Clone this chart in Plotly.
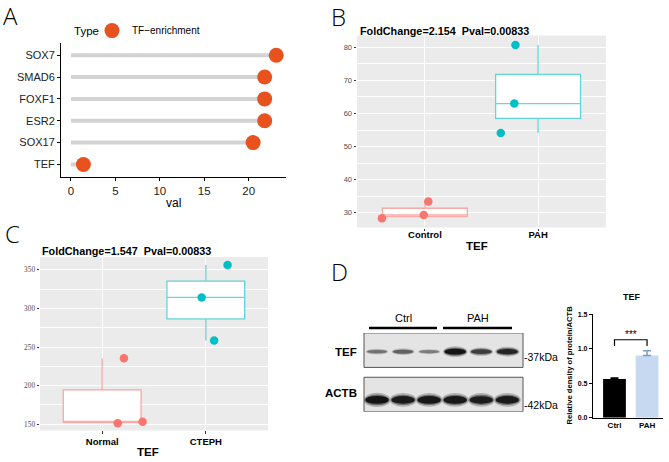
import plotly.graph_objects as go

W, H = 669, 462
def X(px): return px / W
def Y(py): return 1 - py / H

# ---------------- data ----------------
a_genes = ["SOX7", "SMAD6", "FOXF1", "ESR2", "SOX17", "TEF"]
a_vals = [23.1, 21.8, 21.8, 21.8, 20.5, 1.4]

b_groups = ["Control", "PAH"]
b_control = [28.3, 29.3, 33.4]
b_control_jitter = [-0.38, -0.01, 0.03]
b_pah = [54.1, 63.0, 80.7]
b_pah_jitter = [-0.33, -0.21, -0.20]
b_title = "FoldChange=2.154\u00a0 Pval=0.00833"

c_groups = ["Normal", "CTEPH"]
c_normal = [151.3, 153.4, 235.5]
c_normal_jitter = [0.15, 0.39, 0.21]
c_cteph = [258.5, 314.4, 356.4]
c_cteph_jitter = [0.08, -0.04, 0.21]
c_title = "FoldChange=1.547\u00a0 Pval=0.00833"

d_lanes = [1, 2, 3, 4, 5, 6]
d_tef_band = [0.55, 0.62, 0.5, 1.0, 0.8, 0.92]
d_actb_band = [1.0, 0.97, 0.98, 0.98, 0.96, 0.97]

d_groups = ["Ctrl", "PAH"]
d_means = [0.56, 0.90]
d_sem = [0.015, 0.07]
d_sig = "***"

SANS = "Liberation Sans, Arial, sans-serif"
SERIF = "Liberation Serif, Times New Roman, serif"
RED = "#F8766D"
TEAL = "#00BFC4"

fig = go.Figure()

# ---------------- Panel A ----------------
seg_x, seg_y = [], []
for g, v in zip(a_genes, a_vals):
    seg_x += [0, v, None]
    seg_y += [g, g, None]
fig.add_trace(go.Scatter(x=seg_x, y=seg_y, mode="lines",
                         line=dict(color="#D3D3D3", width=4),
                         showlegend=False, xaxis="x", yaxis="y", hoverinfo="skip"))
fig.add_trace(go.Scatter(x=a_vals, y=a_genes, mode="markers", name="TF\u2212enrichment",
                         marker=dict(color="#E8521E", size=15),
                         showlegend=True, xaxis="x", yaxis="y"))

# ---------------- Panels B and C (boxplots + jittered points) ----------------
def add_group(vals, jit, pos, col, lc, xa, ya):
    fig.add_trace(go.Box(y=vals, x0=pos, boxpoints=False, width=0.75, whiskerwidth=0,
                         quartilemethod="inclusive", fillcolor="white",
                         line=dict(color=lc, width=1.3), xaxis=xa, yaxis=ya, showlegend=False))
    fig.add_trace(go.Scatter(x=[pos + j for j in jit], y=vals, mode="markers",
                             marker=dict(color=col, size=8.5), xaxis=xa, yaxis=ya, showlegend=False))

add_group(b_control, b_control_jitter, 1, RED, "rgba(248,118,109,0.6)", "x2", "y2")
add_group(b_pah, b_pah_jitter, 2, TEAL, "rgba(0,191,196,0.6)", "x2", "y2")
add_group(c_normal, c_normal_jitter, 1, RED, "rgba(248,118,109,0.6)", "x3", "y3")
add_group(c_cteph, c_cteph_jitter, 2, TEAL, "rgba(0,191,196,0.6)", "x3", "y3")

# ---------------- Panel D bars ----------------
fig.add_trace(go.Bar(x=[d_groups[0]], y=[d_means[0]], width=0.7, marker=dict(color="black", line=dict(width=0)),
                     error_y=dict(type="data", array=[d_sem[0]], arrayminus=[0], symmetric=False,
                                  color="black", thickness=1.5, width=4),
                     xaxis="x5", yaxis="y5", showlegend=False))
fig.add_trace(go.Bar(x=[d_groups[1]], y=[d_means[1]], width=0.7, marker=dict(color="#C6D9F0", line=dict(width=0)),
                     error_y=dict(type="data", array=[d_sem[1]], arrayminus=[0], symmetric=False,
                                  color="#7E9CC6", thickness=1.5, width=4),
                     xaxis="x5", yaxis="y5", showlegend=False))
br_low = max(m + s for m, s in zip(d_means, d_sem)) + 0.07
br_high = br_low + 0.09
fig.add_trace(go.Scatter(x=[d_groups[0], d_groups[0], d_groups[1], d_groups[1]],
                         y=[br_low, br_high, br_high, br_low], mode="lines",
                         line=dict(color="black", width=1.2), xaxis="x5", yaxis="y5",
                         showlegend=False, hoverinfo="skip"))

shapes = []
annotations = []

# ---------------- Western blot (axis x4/y4) ----------------
for y0, y1 in [(0, 35), (45, 80)]:
    shapes.append(dict(type="rect", xref="x4 domain", yref="y4", x0=0, x1=1, y0=y0, y1=y1,
                       fillcolor="#E4E4E4", line=dict(color="#555555", width=1), layer="below"))

def band_shapes(lane, v, yc, hscale, wbase):
    out = []
    g = int(225 - 205 * v)
    for sw, sh, op in [(1.15, 1.8, 0.25), (1.05, 1.35, 0.45), (1.0, 1.0, 1.0)]:
        w = wbase * sw * (0.85 + 0.15 * v)
        h = hscale * v * sh
        col = "rgba(%d,%d,%d,%.2f)" % (g, g, g, op)
        out.append(dict(type="circle", xref="x4", yref="y4",
                        x0=lane - w / 2, x1=lane + w / 2, y0=yc - h / 2, y1=yc + h / 2,
                        fillcolor=col, line=dict(width=0), layer="above"))
    return out

for ln, v in zip(d_lanes, d_tef_band):
    shapes += band_shapes(ln, v, 19, 6.0, 0.82)
for ln, v in zip(d_lanes, d_actb_band):
    shapes += band_shapes(ln, v, 68, 8.0, 0.9)

fig.add_trace(go.Scatter(x=d_lanes, y=[None] * len(d_lanes), mode="markers",
                         xaxis="x4", yaxis="y4", showlegend=False, hoverinfo="skip"))

shapes.append(dict(type="line", xref="paper", yref="paper", x0=X(369), x1=X(437), y0=Y(329), y1=Y(329),
                   line=dict(color="black", width=2.5)))
shapes.append(dict(type="line", xref="paper", yref="paper", x0=X(443), x1=X(512), y0=Y(329), y1=Y(329),
                   line=dict(color="black", width=2.5)))

for ax in ["2", "3"]:
    shapes.append(dict(type="rect", xref="x%s domain" % ax, yref="y%s domain" % ax, x0=0, x1=1, y0=0, y1=1,
                       fillcolor="#EBEBEB", line=dict(width=0), layer="below"))

def ann(text, x, y, size, xanchor="center", yanchor="middle", bold=False, family=SANS, color="black",
        textangle=0, weight=None):
    annotations.append(dict(text=text, x=X(x), y=Y(y), xref="paper", yref="paper", showarrow=False,
                            xanchor=xanchor, yanchor=yanchor, textangle=textangle,
                            font=dict(size=size, family=family, color=color,
                                      weight=weight if weight else ("bold" if bold else "normal"))))

for L, x, y in [("A", 1, 12), ("B", 329, 13), ("C", 3, 233), ("D", 329, 272)]:
    ann(L, x, y, 24, xanchor="left", family="Open Sans, sans-serif", weight=300)

ann("Type", 72, 27, 11.5, xanchor="left")
ann("val", 173, 202, 12)
ann(b_title, 358, 27, 10.8, xanchor="left", bold=True)
ann("TEF", 477, 246, 11.5, bold=True)
ann(c_title, 40, 251, 10.8, xanchor="left", bold=True)
ann("TEF", 148, 455, 11.5, bold=True)

ann("Ctrl", 403, 319, 11)
ann("PAH", 478, 319, 11)
ann("TEF", 359, 353, 11.5, xanchor="right", bold=True)
ann("ACTB", 359, 395, 11.5, xanchor="right", bold=True)
ann("-37kDa", 522, 358, 10.5, xanchor="left")
ann("-42kDa", 522, 407, 10.5, xanchor="left")
ann("TEF", 632, 298, 9, bold=True)
ann("Relative density of protein/ACTB", 569, 367, 7.6, textangle=-90, weight=600)
annotations.append(dict(text=d_sig, x=0.5, y=br_high, xref="x5", yref="y5", showarrow=False,
                        yanchor="bottom", yshift=-2, font=dict(size=10, family=SANS, color="black")))

gg_tick = dict(ticks="outside", ticklen=2.5, tickcolor="#333333", tickwidth=1)

fig.update_layout(
    width=W, height=H, autosize=False, margin=dict(l=0, r=0, t=0, b=0),
    paper_bgcolor="white", plot_bgcolor="rgba(0,0,0,0)",
    shapes=shapes, annotations=annotations,
    legend=dict(orientation="h", x=X(92), y=Y(27), xanchor="left", yanchor="middle",
                font=dict(size=10, family=SANS, color="black"), itemsizing="trace",
                bgcolor="rgba(0,0,0,0)"),
    # Panel A
    xaxis=dict(domain=[X(61), X(286)], anchor="y", range=[-1.12, 24.2], tickvals=[0, 5, 10, 15, 20],
               showgrid=False, zeroline=False, showline=True, linecolor="black", linewidth=1,
               ticks="outside", ticklen=3, tickcolor="black",
               tickfont=dict(size=11.5, family=SANS, color="#222")),
    yaxis=dict(domain=[Y(176), Y(40)], anchor="x", type="category", categoryorder="array",
               categoryarray=list(reversed(a_genes)), range=[-0.59, 5.54],
               showgrid=False, zeroline=False, showline=True, linecolor="black", linewidth=1,
               ticks="outside", ticklen=3, tickcolor="black",
               tickfont=dict(size=11, family=SANS, color="#222")),
    # Panel B
    xaxis2=dict(domain=[X(357), X(606)], anchor="y2", range=[0.4, 2.6], tickvals=[1, 2], ticktext=b_groups,
                showgrid=True, gridcolor="white", gridwidth=1, zeroline=False, showline=False,
                ticklabelstandoff=-4,
                tickfont=dict(size=9.5, family=SANS, color="black", weight="bold"), **gg_tick),
    yaxis2=dict(domain=[Y(227), Y(32)], anchor="x2", range=[25.5, 83.6], dtick=10, tick0=0,
                showgrid=True, gridcolor="white", gridwidth=1, zeroline=False, showline=False,
                minor=dict(dtick=5, tick0=0, showgrid=True, gridcolor="white", gridwidth=0.5, ticks=""),
                tickfont=dict(size=7.5, family=SANS, color="#4D4D4D"), **gg_tick),
    # Panel C
    xaxis3=dict(domain=[X(40), X(268)], anchor="y3", range=[0.4, 2.6], tickvals=[1, 2], ticktext=c_groups,
                showgrid=True, gridcolor="white", gridwidth=1, zeroline=False, showline=False,
                tickfont=dict(size=9.5, family=SANS, color="black", weight="bold"), **gg_tick),
    yaxis3=dict(domain=[Y(433), Y(257)], anchor="x3", range=[142, 366.6], dtick=50, tick0=0,
                showgrid=True, gridcolor="white", gridwidth=1, zeroline=False, showline=False,
                minor=dict(dtick=25, tick0=0, showgrid=True, gridcolor="white", gridwidth=0.5, ticks=""),
                tickfont=dict(size=7.3, family=SERIF, color="#4D4D4D"), **gg_tick),
    # Blot
    xaxis4=dict(domain=[X(364), X(523)], anchor="y4", range=[0.5, 6.6], visible=False),
    yaxis4=dict(domain=[Y(414), Y(334)], anchor="x4", range=[80, 0], visible=False),
    # Bars
    xaxis5=dict(domain=[X(593), X(663)], anchor="y5", type="category", range=[-0.66, 1.49],
                showgrid=False, zeroline=False, showline=True, linecolor="black", linewidth=1.2,
                ticks="", tickfont=dict(size=8, family=SANS, color="black", weight="bold")),
    yaxis5=dict(domain=[Y(420), Y(315)], anchor="x5", range=[0, 1.5], tickvals=[0, 0.5, 1.0, 1.5],
                tickformat=".1f", showgrid=False, zeroline=False, showline=True, linecolor="black",
                linewidth=1.2, ticks="outside", ticklen=3, tickcolor="black", tickwidth=1.2,
                tickfont=dict(size=7, family=SANS, color="black", weight="bold")),
)

fig.write_html("out.html", config={"displayModeBar": False},
               post_script="document.body.style.margin='0';document.body.style.overflow='hidden';")
